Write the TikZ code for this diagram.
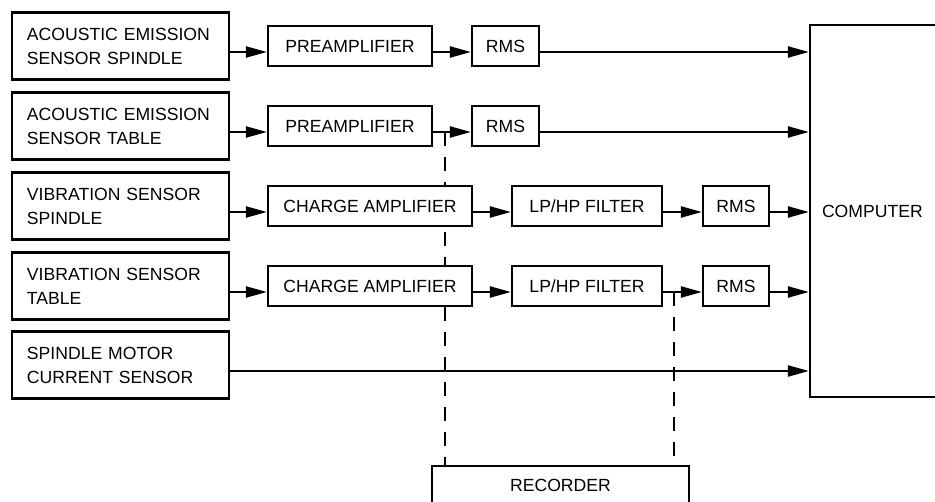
\documentclass[tikz,border=0pt]{standalone}
\usepackage{fontspec}
\setmainfont{Liberation Sans}
\usetikzlibrary{arrows.meta,backgrounds}
\tikzset{
  box/.style={draw, line width=2.2pt, fill=white, inner sep=0pt, font=\fontsize{17.6}{24}\selectfont},
  sensor/.style={box, align=left, text width=187pt, inner xsep=15pt, minimum height=67pt},
  small/.style={box, minimum height=39.5pt},
  arr/.style={line width=2.2pt, -{Triangle[length=21pt,width=11pt]}},
  dsh/.style={line width=2.4pt, dash pattern=on 14pt off 11pt}
}
\begin{document}
\begin{tikzpicture}[x=1pt,y=-1pt]
\clip (0,0) rectangle (935,502);
% sensors
\node[sensor] (s1) at (120.5,46) {ACOUSTIC EMISSION\\SENSOR SPINDLE};
\node[sensor] (s2) at (120.5,126) {ACOUSTIC EMISSION\\SENSOR TABLE};
\node[sensor] (s3) at (120.5,206) {VIBRATION SENSOR\\SPINDLE};
\node[sensor] (s4) at (120.5,286) {VIBRATION SENSOR\\TABLE};
\node[sensor] (s5) at (120.5,365) {SPINDLE MOTOR\\CURRENT SENSOR};
% row 1, 2
\node[small, minimum width=164pt] (p1) at (350,46) {PREAMPLIFIER};
\node[small, minimum width=164pt] (p2) at (350,126) {PREAMPLIFIER};
\node[small, minimum width=67pt] (r1) at (505.5,46) {RMS};
\node[small, minimum width=67pt] (r2) at (505.5,126) {RMS};
% row 3, 4
\node[small, minimum width=204pt] (c3) at (370,206) {CHARGE AMPLIFIER};
\node[small, minimum width=204pt] (c4) at (370,286) {CHARGE AMPLIFIER};
\node[small, minimum width=150pt] (f3) at (587,206) {LP/HP FILTER};
\node[small, minimum width=150pt] (f4) at (587,286) {LP/HP FILTER};
\node[small, minimum width=66pt] (r3) at (736,206) {RMS};
\node[small, minimum width=66pt] (r4) at (736,286) {RMS};
% computer
\node[box, align=left, text width=126pt, inner xsep=12pt, minimum height=372pt] (comp) at (885,211) {COMPUTER};
% recorder
\node[box, minimum width=257pt, minimum height=38pt] (rec) at (560.5,485) {RECORDER};
% dashed taps
\begin{scope}[on background layer]
\draw[dsh] ([xshift=12pt,yshift=-6pt]p2.east) -- ([xshift=12pt]p2.east |- rec.north);
\draw[dsh] ([xshift=11pt,yshift=-6pt]f4.east) -- ([xshift=11pt]f4.east |- rec.north);
\end{scope}
% arrows
\draw[arr] ([yshift=-6pt]s1.east) -- ([yshift=-6pt]p1.west);
\draw[arr] ([yshift=-6pt]p1.east) -- ([yshift=-6pt]r1.west);
\draw[arr] ([yshift=-6pt]r1.east) -- ([yshift=-6pt]r1.east -| comp.west);
\draw[arr] ([yshift=-6pt]s2.east) -- ([yshift=-6pt]p2.west);
\draw[arr] ([yshift=-6pt]p2.east) -- ([yshift=-6pt]r2.west);
\draw[arr] ([yshift=-6pt]r2.east) -- ([yshift=-6pt]r2.east -| comp.west);
\draw[arr] ([yshift=-6pt]s3.east) -- ([yshift=-6pt]c3.west);
\draw[arr] ([yshift=-6pt]c3.east) -- ([yshift=-6pt]f3.west);
\draw[arr] ([yshift=-6pt]f3.east) -- ([yshift=-6pt]r3.west);
\draw[arr] ([yshift=-6pt]r3.east) -- ([yshift=-6pt]r3.east -| comp.west);
\draw[arr] ([yshift=-6pt]s4.east) -- ([yshift=-6pt]c4.west);
\draw[arr] ([yshift=-6pt]c4.east) -- ([yshift=-6pt]f4.west);
\draw[arr] ([yshift=-6pt]f4.east) -- ([yshift=-6pt]r4.west);
\draw[arr] ([yshift=-6pt]r4.east) -- ([yshift=-6pt]r4.east -| comp.west);
\draw[arr] ([yshift=-6pt]s5.east) -- ([yshift=-6pt]s5.east -| comp.west);
\end{tikzpicture}
\end{document}
